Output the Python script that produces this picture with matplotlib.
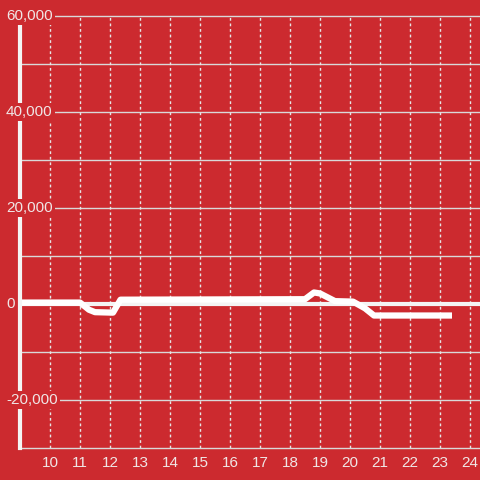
import matplotlib
matplotlib.use("Agg")
import matplotlib.pyplot as plt
import matplotlib.transforms as mtransforms

# data
hours = [9.0, 11.0, 11.3, 11.5, 12.1, 12.35, 18.5, 18.8, 19.0, 19.5, 20.1, 20.5, 20.8, 23.4]
values = [300, 300, -1200, -1700, -1800, 900, 1000, 2400, 2200, 600, 500, -900, -2400, -2400]
x_ticks = list(range(10, 25))
y_labels = [-20000, 0, 20000, 40000, 60000]
y_grid = list(range(-20000, 60001, 10000))

bg = "#cc2a2f"
txt = "#f0e6e6"

plt.rcParams["font.family"] = ["Liberation Sans", "DejaVu Sans"]

fig = plt.figure(figsize=(4.8, 4.8), dpi=100, facecolor=bg)
ax = fig.add_axes([20 / 480, 32 / 480, 460 / 480, 432 / 480])
ax.set_facecolor(bg)
ax.set_xlim(9, 9 + 460 / 30)
ax.set_ylim(-30000, 60000)

# grid
for g in y_grid:
    ax.axhline(g, color="#d9d9d9", lw=1, zorder=1, clip_on=False)
for t in x_ticks:
    ax.axvline(t, color="#e6e6e6", lw=1, ls=(0, (2, 2)), zorder=1)

# zero line
ax.axhline(0, color="#f4f4f4", lw=3, zorder=2)

ax.plot(hours, values, color="white", lw=4.5, solid_capstyle="butt",
        solid_joinstyle="round", zorder=3)

for s in ["top", "right"]:
    ax.spines[s].set_visible(False)
ax.spines["left"].set_color("#f4f4f4")
ax.spines["left"].set_linewidth(3)
ax.spines["left"].set_zorder(4)
ax.spines["bottom"].set_color("#d9d9d9")
ax.spines["bottom"].set_linewidth(1)

ax.set_xticks(x_ticks)
ax.set_xticklabels([str(t) for t in x_ticks], color=txt, fontsize=11)
ax.tick_params(axis="x", length=0, pad=6)
ax.set_yticks([])

trans = mtransforms.blended_transform_factory(ax.transAxes, ax.transData)
for v in y_labels:
    ax.text(-14 / 460, v, f"{v:,}", transform=trans, ha="left", va="center",
            color=txt, fontsize=11, zorder=5, clip_on=False,
            bbox=dict(facecolor=bg, edgecolor="none", pad=1.5))

fig.savefig("out.png", dpi=100, facecolor=bg)
